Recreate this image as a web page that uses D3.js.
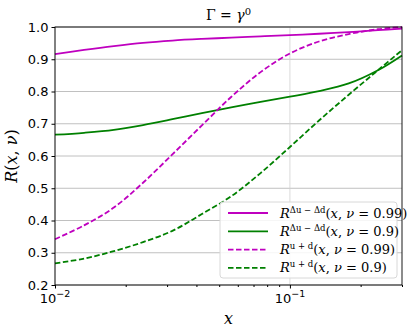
<!DOCTYPE html>
<html>
<head>
<meta charset="utf-8">
<script src="https://cdn.jsdelivr.net/npm/d3@7"></script>
<style>
  body { margin: 0; background: #fff; }
  text { font-family: "DejaVu Sans", sans-serif; }
  .math { font-family: "DejaVu Serif", serif; }
</style>
</head>
<body>
<div id="chart"></div>
<script>
// data
const xs = [0.01, 0.0133, 0.0178, 0.0237, 0.0316, 0.0422, 0.0562, 0.075, 0.1, 0.133, 0.178, 0.237, 0.3]
const magSolid = [0.916, 0.929, 0.941, 0.951, 0.958, 0.963, 0.967, 0.971, 0.975, 0.979, 0.984, 0.990, 0.995]
const grnSolid = [0.666, 0.672, 0.681, 0.696, 0.714, 0.733, 0.751, 0.768, 0.784, 0.801, 0.825, 0.866, 0.912]
const magDash  = [0.342, 0.385, 0.440, 0.517, 0.605, 0.695, 0.783, 0.860, 0.918, 0.955, 0.978, 0.993, 1.0]
const grnDash  = [0.267, 0.282, 0.305, 0.333, 0.368, 0.420, 0.475, 0.547, 0.628, 0.710, 0.790, 0.866, 0.928]
const yTicks = [0.2, 0.3, 0.4, 0.5, 0.6, 0.7, 0.8, 0.9, 1.0]
const xMajor = [0.01, 0.1]
const xMinor = [0.02, 0.03, 0.04, 0.05, 0.06, 0.07, 0.08, 0.09, 0.2, 0.3]

const series = [
    {vals: magSolid, color: "#bf00bf", dash: null, sup: "Δu − Δd", nu: "0.99"},
    {vals: grnSolid, color: "#008000", dash: null, sup: "Δu − Δd", nu: "0.9"},
    {vals: magDash, color: "#bf00bf", dash: "5.5,2.5", sup: "u + d", nu: "0.99"},
    {vals: grnDash, color: "#008000", dash: "5.5,2.5", sup: "u + d", nu: "0.9"},
]

const W = 409, H = 332
const m = {left: 55, right: 7, top: 27, bottom: 47}

const svg = d3.select("#chart").append("svg")
    .attr("width", W).attr("height", H)

const x = d3.scaleLog().domain([0.01, 0.3]).range([m.left, W - m.right])
const y = d3.scaleLinear().domain([0.2, 1.0]).range([H - m.bottom, m.top])

//grid
svg.append("g").selectAll("line").data(yTicks).enter().append("line")
    .attr("x1", m.left).attr("x2", W - m.right)
    .attr("y1", d => y(d)).attr("y2", d => y(d))
    .attr("stroke", "#b0b0b0").attr("stroke-width", 0.8)
svg.append("g").selectAll("line").data(xMajor).enter().append("line")
    .attr("x1", d => x(d)).attr("x2", d => x(d))
    .attr("y1", m.top).attr("y2", H - m.bottom)
    .attr("stroke", "#d0d0d0").attr("stroke-width", 0.8)

// curves
const line = d3.line().x(d => x(d[0])).y(d => y(d[1])).curve(d3.curveCatmullRom.alpha(0.5))
const plot = svg.append("g")
plot.selectAll("path").data(series).enter().append("path")
    .attr("d", s => line(xs.map((v, i) => [v, s.vals[i]])))
    .attr("fill", "none")
    .attr("stroke", s => s.color)
    .attr("stroke-width", 1.8)
    .attr("stroke-dasharray", s => s.dash)

// frame
svg.append("rect")
    .attr("x", m.left).attr("y", m.top)
    .attr("width", W - m.left - m.right).attr("height", H - m.top - m.bottom)
    .attr("fill", "none").attr("stroke", "#000").attr("stroke-width", 0.9)

// y axis
const yAx = svg.append("g").attr("transform", `translate(${m.left},0)`)
    .call(d3.axisLeft(y).tickValues(yTicks).tickFormat(d3.format(".1f")).tickSize(3.5))
yAx.select(".domain").remove()
yAx.selectAll("text").attr("font-size", 13).attr("fill", "#000")
    .attr("font-family", "DejaVu Sans, sans-serif")

// x axis
const xAx = svg.append("g").attr("transform", `translate(0,${H - m.bottom})`)
    .call(d3.axisBottom(x).tickValues(xMajor).tickFormat("").tickSize(3.5))
xAx.select(".domain").remove()
const xMin = svg.append("g").attr("transform", `translate(0,${H - m.bottom})`)
    .call(d3.axisBottom(x).tickValues(xMinor).tickFormat("").tickSize(2))
xMin.select(".domain").remove()

const xl = svg.append("g").selectAll("text").data(xMajor).enter().append("text")
    .attr("x", d => x(d)).attr("y", H - m.bottom + 18)
    .attr("text-anchor", "middle").attr("font-size", 13)
xl.append("tspan").text("10")
xl.append("tspan").attr("dy", -6).attr("font-size", 9.5).text(d => "−" + Math.round(-Math.log10(d)))

// labels
svg.append("text").attr("class", "math")
    .attr("x", (m.left + W - m.right) / 2).attr("y", 20)
    .attr("text-anchor", "middle").attr("font-size", 14)
    .html('Γ = <tspan font-style="italic">γ</tspan><tspan dy="-5" font-size="10">0</tspan>')

svg.append("text").attr("class", "math")
    .attr("x", (m.left + W - m.right) / 2).attr("y", 324)
    .attr("text-anchor", "middle").attr("font-size", 16).attr("font-style", "italic")
    .text("x")

svg.append("text").attr("class", "math")
    .attr("transform", `translate(17,${(m.top + H - m.bottom) / 2}) rotate(-90)`)
    .attr("text-anchor", "middle").attr("font-size", 16)
    .html('<tspan font-style="italic">R</tspan>(<tspan font-style="italic">x</tspan>, <tspan font-style="italic">ν</tspan>)')

// legend
const lg = svg.append("g").attr("transform", "translate(220,202)")
lg.append("rect").attr("width", 177).attr("height", 76).attr("rx", 3)
    .attr("fill", "#fff").attr("fill-opacity", 0.85).attr("stroke", "#d8d8d8")
const item = lg.selectAll("g.it").data(series).enter().append("g")
    .attr("transform", (d, i) => `translate(0,${11 + i * 18.3})`)
item.append("line").attr("x1", 8).attr("x2", 48)
    .attr("stroke", d => d.color).attr("stroke-width", 1.8)
    .attr("stroke-dasharray", d => d.dash)
item.append("text").attr("class", "math")
    .attr("x", 60).attr("y", 4.5).attr("font-size", 13)
    .html(d => `<tspan font-style="italic">R</tspan><tspan dy="-5" font-size="8.5">${d.sup}</tspan><tspan dy="5">(</tspan><tspan font-style="italic">x</tspan>, <tspan font-style="italic">ν</tspan> = ${d.nu})`)
</script>
</body>
</html>
